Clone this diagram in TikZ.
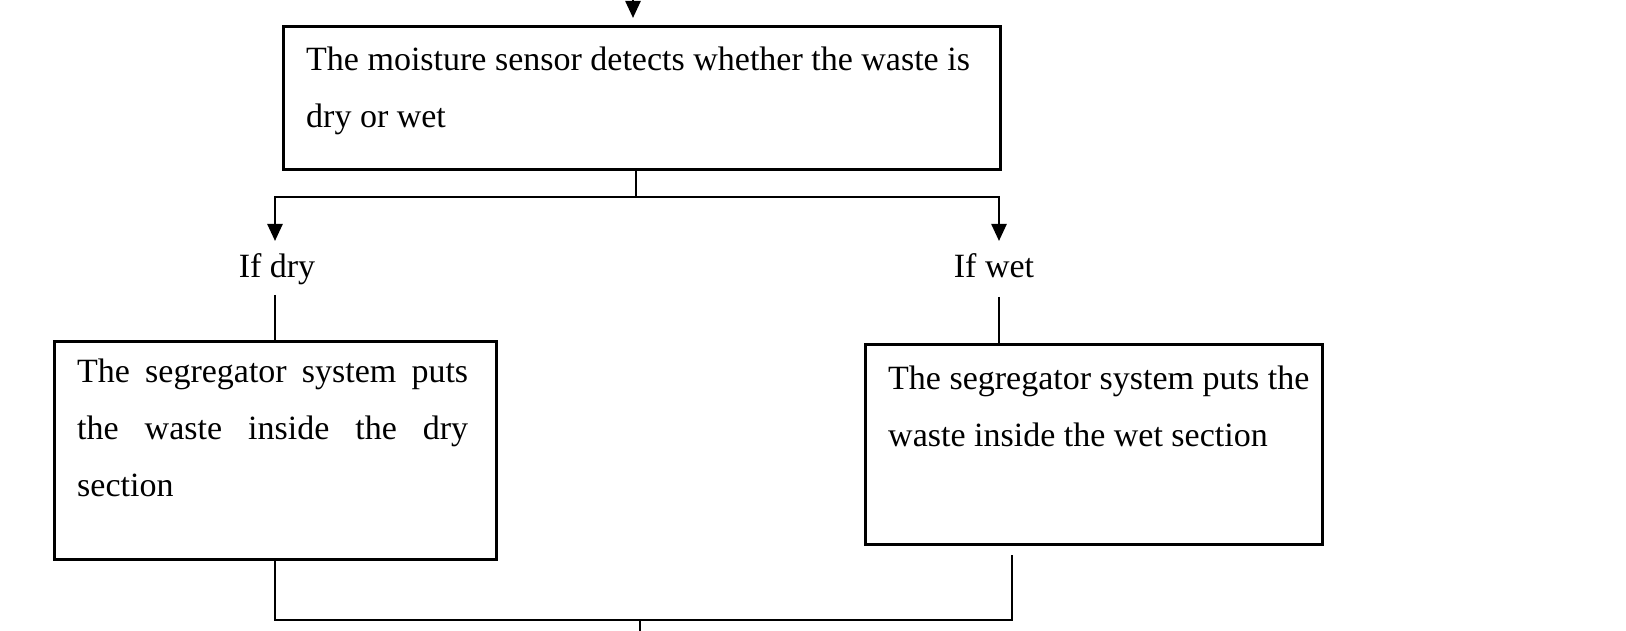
\documentclass[tikz,border=0pt]{standalone}
\usepackage{fontspec}
\setmainfont{Liberation Serif}
\usetikzlibrary{arrows.meta}
\begin{document}
\begin{tikzpicture}[x=1pt,y=-1pt,
  box/.style={draw, line width=3pt, rectangle, inner sep=0pt, anchor=north west},
  txt/.style={anchor=base west, inner sep=0pt, font=\fontsize{34}{57}\selectfont},
  conn/.style={line width=2.5pt},
  arr/.style={conn, -{Triangle[width=15pt,length=17pt]}},
  lbl/.style={anchor=base, inner sep=0pt, font=\fontsize{34}{40}\selectfont}]
\clip (0,0) rectangle (1626,631);
% boxes
\node[box, minimum width=717pt, minimum height=143pt] (top) at (282,25) {};
\node[box, minimum width=442pt, minimum height=218pt] (lbox) at (53,340) {};
\node[box, minimum width=457pt, minimum height=200pt] (rbox) at (864,343) {};
% texts (anchor at the baseline of the last line)
\node[txt, align=left] (toptxt) at (306,128) {The moisture sensor detects whether the waste is\\dry or wet};
\node[txt, text width=391pt, align=justify] (ltxt) at (77,382) {The segregator system puts\linebreak the waste inside the dry\linebreak section};
\node[txt, align=left] (rtxt) at (888,446) {The segregator system puts the\\waste inside the wet section};
\node[lbl] (dry) at (277,278) {If dry};
\node[lbl] (wet) at (994,278) {If wet};
% coordinates
\coordinate (in) at (633,-30);
\coordinate (split) at (636,197);
\coordinate (dryin) at (275,241);
\coordinate (wetin) at (999,241);
\coordinate (dryout) at (275,295);
\coordinate (wetout) at (999,297);
\coordinate (wetdown) at (1012,555);
\coordinate (join) at (640,620);
\coordinate (out) at (640,650);
% connectors
\draw[arr, shorten >=7pt] (in) -- (in |- top.north);
\draw[conn] (split |- top.south) -- (split);
\draw[arr] (split) -| (dryin);
\draw[arr] (split) -| (wetin);
\draw[conn] (dryout) -- (dryout |- lbox.north);
\draw[conn] (wetout) -- (wetout |- rbox.north);
\draw[conn] (dryout |- lbox.south) |- (join) -| (wetdown);
\draw[conn] (join) -- (out);
\end{tikzpicture}
\end{document}
